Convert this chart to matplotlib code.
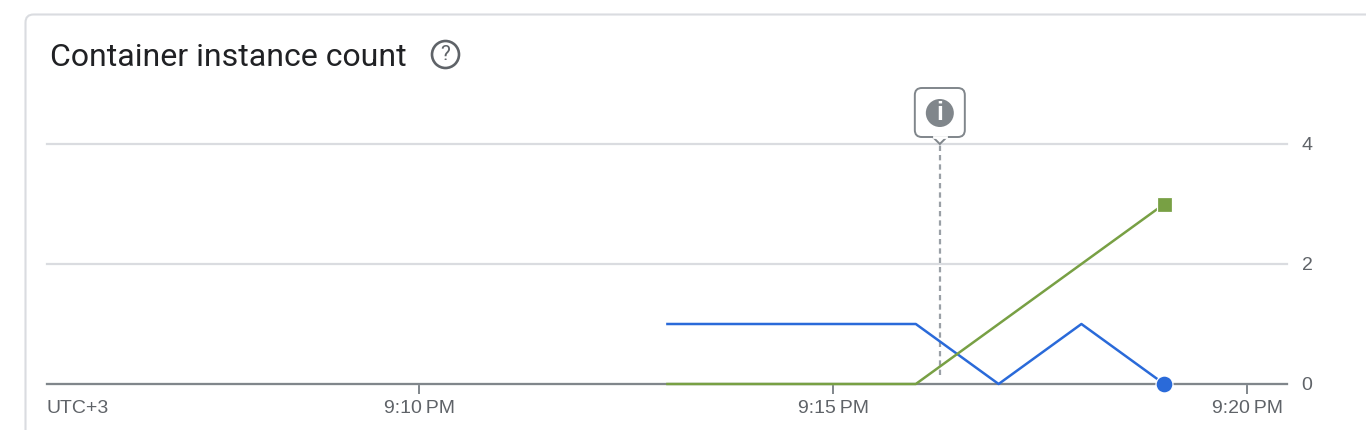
import matplotlib
matplotlib.use("Agg")
import matplotlib.pyplot as plt
from matplotlib.patches import Circle, FancyBboxPatch, Polygon

# minutes after 9:00 PM
minutes = [13, 14, 15, 16, 17, 18, 19]
blue_values = [1, 1, 1, 1, 0, 1, 0]
green_values = [0, 0, 0, 0, 1, 2, 3]
x_ticks = [10, 15, 20]
x_labels = ["9:10\u2009PM", "9:15\u2009PM", "9:20\u2009PM"]
y_ticks = [0, 2, 4]
event_minute = 16.29

W, H = 1366, 430
GRID = "#dadce0"
AXIS = "#80868b"
TEXT = "#5f6368"
BLUE = "#2a6ad9"
GREEN = "#78a044"

plt.rcParams["font.family"] = ["Liberation Sans", "DejaVu Sans"]
fig = plt.figure(figsize=(W / 100, H / 100), dpi=100)

# card and title live in a pixel-sized overlay
bg = fig.add_axes([0, 0, 1, 1])
bg.set_xlim(0, W)
bg.set_ylim(H, 0)
bg.axis("off")
bg.add_patch(FancyBboxPatch((25.5, 14.5), W + 40, H + 40, boxstyle="round,pad=0,rounding_size=8",
                            fc="white", ec=GRID, lw=1.5))
bg.text(50, 57, "Container instance count", family="Roboto", fontsize=23, color="#202124",
        va="center", ha="left")
bg.add_patch(Circle((445.5, 54.5), 13.5, fc="none", ec=TEXT, lw=1.9))
bg.text(445.5, 55, "?", family="Roboto", fontsize=15, color=TEXT, ha="center", va="center")

ax = fig.add_axes([47 / W, 1 - 384 / H, (1287 - 47) / W, 240 / H])
ax.patch.set_alpha(0)
ax.set_xlim(5.507, 20.483)
ax.set_ylim(0, 4)

for s in ["top", "left", "right"]:
    ax.spines[s].set_visible(False)
ax.spines["bottom"].set_color(AXIS)
ax.spines["bottom"].set_linewidth(1.6)

ax.set_xticks(x_ticks, x_labels)
ax.set_yticks(y_ticks)
ax.yaxis.tick_right()
ax.tick_params(axis="x", length=7, width=1.4, color=AXIS, labelcolor=TEXT, labelsize=14, pad=4.5)
ax.tick_params(axis="y", length=0, labelcolor=TEXT, labelsize=14, pad=10.5)
ax.grid(axis="y", color=GRID, lw=1.6, clip_on=False)
ax.set_axisbelow(True)

ax.annotate("UTC+3", xy=(0, 0), xycoords="axes fraction", xytext=(0, -11.7), textcoords="offset points",
            ha="left", va="top", fontsize=14, color=TEXT)

# event marker
ax.plot([event_minute, event_minute], [0.15, 4], color="#9aa0a6", lw=1.6, ls=(0, (2.4, 1.8)), zorder=2)

ax.plot(minutes, blue_values, color=BLUE, lw=1.8, zorder=3, clip_on=False)
ax.plot(minutes, green_values, color=GREEN, lw=1.8, zorder=4, clip_on=False)
ax.plot(minutes[-1], blue_values[-1], "o", color=BLUE, ms=12.2, mec="white", mew=0.9, zorder=5, clip_on=False)
ax.plot(minutes[-1], green_values[-1], "s", color=GREEN, ms=10.8, mec="white", mew=0.9, zorder=5, clip_on=False)

# info callout above the event line
fx = 47 + (event_minute - 5.507) * 1240 / (20.483 - 5.507)
bg.set_zorder(0)
ax.set_zorder(1)
top = fig.add_axes([0, 0, 1, 1], zorder=2)
top.set_xlim(0, W)
top.set_ylim(H, 0)
top.axis("off")
top.add_patch(FancyBboxPatch((fx - 25, 88), 50, 49, boxstyle="round,pad=0,rounding_size=7",
                             fc="white", ec=AXIS, lw=1.4))
top.add_patch(Polygon([[fx - 7, 137], [fx, 144], [fx + 7, 137]], closed=False, fc="white", ec=AXIS, lw=1.4))
top.plot([fx - 6, fx + 6], [137, 137], color="white", lw=2)
top.add_patch(Circle((fx, 113), 14, fc=AXIS, ec="none"))
top.text(fx, 112.5, "i", family="Liberation Sans", fontsize=18, weight="bold", color="white",
         ha="center", va="center")

fig.savefig("out.png", dpi=100)
